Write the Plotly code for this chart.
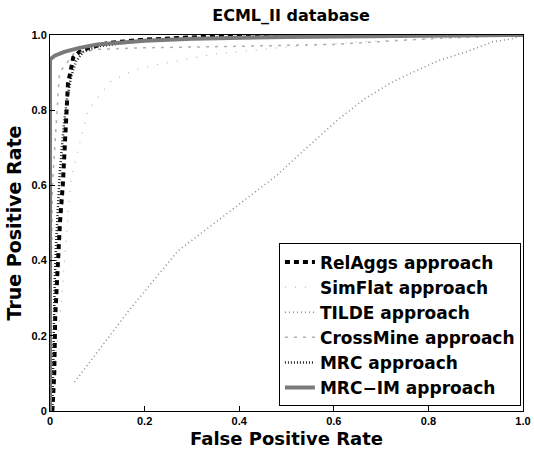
import plotly.graph_objects as go

# ---- data ----
relaggs_x = [0.005, 0.009, 0.011, 0.016, 0.021, 0.027, 0.031, 0.034, 0.038, 0.045, 0.049, 0.062, 0.082, 0.124, 0.194, 0.27, 0.39, 0.6, 1.0]
relaggs_y = [0.0, 0.1, 0.25, 0.4, 0.5, 0.6, 0.7, 0.8, 0.87, 0.913, 0.94, 0.955, 0.966, 0.979, 0.987, 0.992, 0.998, 1.0, 1.0]

simflat_x = [0.0, 0.024, 0.038, 0.045, 0.08, 0.128, 0.18, 0.225, 0.35, 0.5, 0.7, 1.0]
simflat_y = [0.0, 0.29, 0.52, 0.62, 0.8, 0.876, 0.908, 0.921, 0.95, 0.968, 0.985, 1.0]

tilde_x = [0.052, 0.166, 0.27, 0.38, 0.478, 0.54, 0.609, 0.665, 0.721, 0.769, 0.825, 0.88, 0.936, 0.977, 1.0]
tilde_y = [0.077, 0.266, 0.425, 0.53, 0.625, 0.697, 0.775, 0.83, 0.873, 0.902, 0.934, 0.955, 0.982, 0.99, 1.0]

crossmine_x = [0.0, 0.005, 0.02, 0.05, 0.1, 0.2, 0.4, 0.6, 0.8, 1.0]
crossmine_y = [0.0, 0.6, 0.9, 0.95, 0.962, 0.966, 0.97, 0.975, 0.99, 1.0]

mrc_x = [0.005, 0.007, 0.01, 0.013, 0.017, 0.02, 0.025, 0.03, 0.036, 0.045, 0.055, 0.07, 0.1, 0.2, 0.4, 1.0]
mrc_y = [0.0, 0.2, 0.35, 0.45, 0.55, 0.62, 0.7, 0.77, 0.83, 0.89, 0.93, 0.955, 0.97, 0.985, 0.995, 1.0]

mrcim_x = [0.0, 0.0, 0.01, 0.03, 0.06, 0.1, 0.2, 0.3, 0.5, 0.7, 1.0]
mrcim_y = [0.0, 0.935, 0.945, 0.955, 0.965, 0.975, 0.985, 0.99, 0.995, 0.998, 1.0]

tick_vals = [0, 0.2, 0.4, 0.6, 0.8, 1.0]
tick_text = ["0", "0.2", "0.4", "0.6", "0.8", "1.0"]

series = [
    ("RelAggs approach", relaggs_x, relaggs_y, dict(color="black", width=4, dash="5px,4px")),
    ("SimFlat approach", simflat_x, simflat_y, dict(color="#b8b8b8", width=1.2, dash="1px,9px")),
    ("TILDE approach", tilde_x, tilde_y, dict(color="#8a8a8a", width=1.5, dash="1px,3px")),
    ("CrossMine approach", crossmine_x, crossmine_y, dict(color="#b0b0b0", width=1.5, dash="3px,6px")),
    ("MRC approach", mrc_x, mrc_y, dict(color="#222222", width=2.5, dash="1px,2px")),
    ("MRC\u2212IM approach", mrcim_x, mrcim_y, dict(color="#7a7a7a", width=4)),
]

fig = go.Figure()
for name, xs, ys, line in series:
    fig.add_trace(go.Scatter(x=xs, y=ys, mode="lines", name=name, line=line))

font_family = "DejaVu Sans, Liberation Sans, sans-serif"
tick_family = "Liberation Sans, Arial, sans-serif"

fig.update_layout(
    width=534, height=449,
    margin=dict(l=50, r=3, t=35, b=36),
    paper_bgcolor="white", plot_bgcolor="white",
    title=dict(text="<b>ECML_II database</b>", x=0.545, xanchor="center", y=0.966, yanchor="middle",
               font=dict(family=font_family, size=16, color="black")),
    showlegend=True,
    legend=dict(x=0.484, y=0.012, xanchor="left", yanchor="bottom",
                bgcolor="white", bordercolor="black", borderwidth=1,
                font=dict(family=font_family, size=17, color="black", weight="bold"),
                tracegroupgap=0, itemwidth=30),
    font=dict(family=font_family, color="black"),
)

axis_common = dict(
    range=[0, 1], tickvals=tick_vals, ticktext=["<b>" + t + "</b>" for t in tick_text],
    showgrid=False, zeroline=False, showline=True, linecolor="black", linewidth=1,
    mirror=True, ticks="inside", ticklen=5, tickcolor="black", ticklabeloverflow="allow",
    tickfont=dict(family=tick_family, size=11, color="black"),
)
fig.update_xaxes(**axis_common, title=dict(text="<b>False Positive Rate</b>", standoff=6,
                 font=dict(family=font_family, size=18, color="black")))
fig.update_yaxes(**axis_common, title=dict(text="<b>True Positive Rate</b>", standoff=4,
                 font=dict(family=font_family, size=19, color="black")))

fig.write_html("out.html")
